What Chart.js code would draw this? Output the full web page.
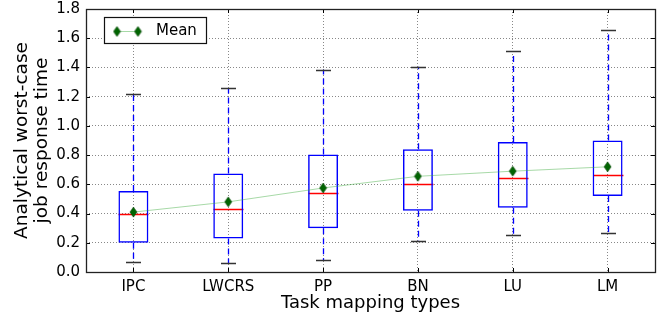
<!DOCTYPE html>
<html>
<head>
<meta charset="utf-8">
<script src="https://cdn.jsdelivr.net/npm/chart.js@4/dist/chart.umd.min.js"></script>
<style>
  body { margin: 0; background: #fff; }
  #wrap { width: 668px; height: 320px; }
</style>
</head>
<body>
<div id="wrap"><canvas id="boxChart" width="668" height="320"></canvas></div>
<script>
const categories = ['IPC', 'LWCRS', 'PP', 'BN', 'LU', 'LM'];
const whiskerLow = [0.07, 0.06, 0.08, 0.21, 0.25, 0.265];
const q1 = [0.20, 0.23, 0.30, 0.42, 0.44, 0.52];
const median = [0.40, 0.43, 0.54, 0.60, 0.645, 0.665];
const q3 = [0.555, 0.675, 0.805, 0.84, 0.89, 0.90];
const whiskerHigh = [1.22, 1.26, 1.385, 1.405, 1.51, 1.655];
const means = [0.41, 0.48, 0.575, 0.655, 0.69, 0.72];
const yTicks = [0, 0.2, 0.4, 0.6, 0.8, 1.0, 1.2, 1.4, 1.6, 1.8];

const fontFamily = "'DejaVu Sans', sans-serif";
const meanGreen = '#006400';
const meanLine = 'rgba(60, 170, 60, 0.45)';

// thin diamond marker like matplotlib 'd'
const diamond = document.createElement('canvas');
diamond.width = 9;
diamond.height = 12;
(() => {
  const c = diamond.getContext('2d');
  c.fillStyle = meanGreen;
  c.strokeStyle = '#004400';
  c.lineWidth = 0.6;
  c.beginPath();
  c.moveTo(4.5, 1);
  c.lineTo(8, 6);
  c.lineTo(4.5, 11);
  c.lineTo(1, 6);
  c.closePath();
  c.fill();
  c.stroke();
})();

const boxParts = {
  id: 'boxParts',
  beforeDatasetsDraw(chart) {
    const { ctx } = chart;
    const x = chart.scales.x;
    const y = chart.scales.y;
    const bars = chart.getDatasetMeta(0).data;
    ctx.save();
    categories.forEach((cat, i) => {
      const cx = Math.round(x.getPixelForValue(i)) + 0.5;
      const half = bars[i].width / 2;
      // whiskers
      ctx.strokeStyle = '#0000ff';
      ctx.lineWidth = 1.3;
      ctx.setLineDash([6, 4]);
      ctx.beginPath();
      ctx.moveTo(cx, y.getPixelForValue(q3[i]));
      ctx.lineTo(cx, y.getPixelForValue(whiskerHigh[i]));
      ctx.moveTo(cx, y.getPixelForValue(q1[i]));
      ctx.lineTo(cx, y.getPixelForValue(whiskerLow[i]));
      ctx.stroke();
      ctx.setLineDash([]);
      // caps
      ctx.strokeStyle = '#333';
      ctx.lineWidth = 1.5;
      ctx.beginPath();
      [whiskerHigh[i], whiskerLow[i]].forEach(v => {
        const py = Math.round(y.getPixelForValue(v)) + 0.5;
        ctx.moveTo(cx - 7.5, py);
        ctx.lineTo(cx + 7.5, py);
      });
      ctx.stroke();
      // median
      ctx.strokeStyle = '#ff0000';
      ctx.lineWidth = 1.5;
      ctx.beginPath();
      const my = Math.round(y.getPixelForValue(median[i])) + 0.5;
      ctx.moveTo(cx - half, my);
      ctx.lineTo(cx + half, my);
      ctx.stroke();
    });
    ctx.restore();
  },
  afterDraw(chart) {
    const { ctx, chartArea } = chart;
    const { left, right, top, bottom } = chartArea;
    const x = chart.scales.x;
    const y = chart.scales.y;
    ctx.save();
    // inward ticks
    ctx.strokeStyle = '#000';
    ctx.lineWidth = 1;
    ctx.beginPath();
    yTicks.forEach(v => {
      const py = Math.round(y.getPixelForValue(v)) + 0.5;
      ctx.moveTo(left, py); ctx.lineTo(left + 4, py);
      ctx.moveTo(right, py); ctx.lineTo(right - 4, py);
    });
    categories.forEach((c, i) => {
      const px = Math.round(x.getPixelForValue(i)) + 0.5;
      ctx.moveTo(px, bottom); ctx.lineTo(px, bottom - 4);
      ctx.moveTo(px, top); ctx.lineTo(px, top + 4);
    });
    ctx.stroke();
    // frame
    ctx.strokeStyle = '#222';
    ctx.lineWidth = 1.3;
    ctx.strokeRect(Math.round(left) + 0.5, Math.round(top) + 0.5, Math.round(right - left), Math.round(bottom - top));
    // legend
    ctx.fillStyle = '#fff';
    ctx.fillRect(104.5, 17.5, 102, 26);
    ctx.strokeStyle = '#111';
    ctx.lineWidth = 1.2;
    ctx.strokeRect(104.5, 17.5, 102, 26);
    ctx.strokeStyle = meanLine;
    ctx.lineWidth = 1;
    ctx.beginPath();
    ctx.moveTo(117, 31.5);
    ctx.lineTo(138, 31.5);
    ctx.stroke();
    ctx.drawImage(diamond, 117 - 4.5, 31.5 - 6);
    ctx.drawImage(diamond, 138 - 4.5, 31.5 - 6);
    ctx.fillStyle = '#000';
    ctx.font = '15px ' + fontFamily;
    ctx.textBaseline = 'middle';
    ctx.textAlign = 'left';
    ctx.fillText('Mean', 156, 31.5);
    ctx.restore();
  }
};

new Chart(document.getElementById('boxChart').getContext('2d'), {
  type: 'bar',
  data: {
    labels: categories,
    datasets: [{
      label: 'Box',
      data: q1.map((v, i) => [v, q3[i]]),
      backgroundColor: 'rgba(0,0,0,0)',
      borderColor: '#0000ff',
      borderWidth: 1.5,
      borderSkipped: false,
      categoryPercentage: 1,
      barPercentage: 0.316,
      order: 2
    }, {
      type: 'line',
      label: 'Mean',
      data: means,
      borderColor: meanLine,
      borderWidth: 1,
      pointStyle: diamond,
      pointRadius: 5,
      pointHoverRadius: 5,
      tension: 0,
      order: 1
    }]
  },
  options: {
    responsive: false,
    devicePixelRatio: 1,
    animation: false,
    events: [],
    layout: { padding: { left: 0, right: 13, top: 9, bottom: 0 } },
    plugins: {
      legend: { display: false },
      tooltip: { enabled: false }
    },
    scales: {
      x: {
        offset: true,
        grid: { color: '#555', lineWidth: 0.7, drawTicks: false, offset: false },
        border: { display: false, dash: [1, 2] },
        ticks: { color: '#000', padding: 6, font: { family: fontFamily, size: 15 } },
        title: {
          display: true,
          text: 'Task mapping types',
          color: '#000',
          padding: { top: 0, bottom: 6 },
          font: { family: fontFamily, size: 18 }
        },
        afterFit(scale) {
          scale.height = 48;
          scale.paddingLeft = 0;
          scale.paddingRight = 0;
        }
      },
      y: {
        min: 0,
        max: 1.8,
        afterBuildTicks(scale) { scale.ticks = yTicks.map(v => ({ value: v })); },
        grid: { color: '#555', lineWidth: 0.7, drawTicks: false },
        border: { display: false, dash: [1, 2] },
        ticks: {
          color: '#000',
          padding: 6,
          font: { family: fontFamily, size: 15 },
          callback: v => Number(v).toFixed(1)
        },
        title: {
          display: true,
          text: ['Analytical worst-case', 'job response time'],
          color: '#000',
          padding: { top: 12, bottom: 0 },
          font: { family: fontFamily, size: 18.5, lineHeight: 1.08 }
        },
        afterFit(scale) {
          scale.width = 86;
          scale.paddingTop = 0;
          scale.paddingBottom = 0;
        }
      }
    }
  },
  plugins: [boxParts]
});
</script>
</body>
</html>
